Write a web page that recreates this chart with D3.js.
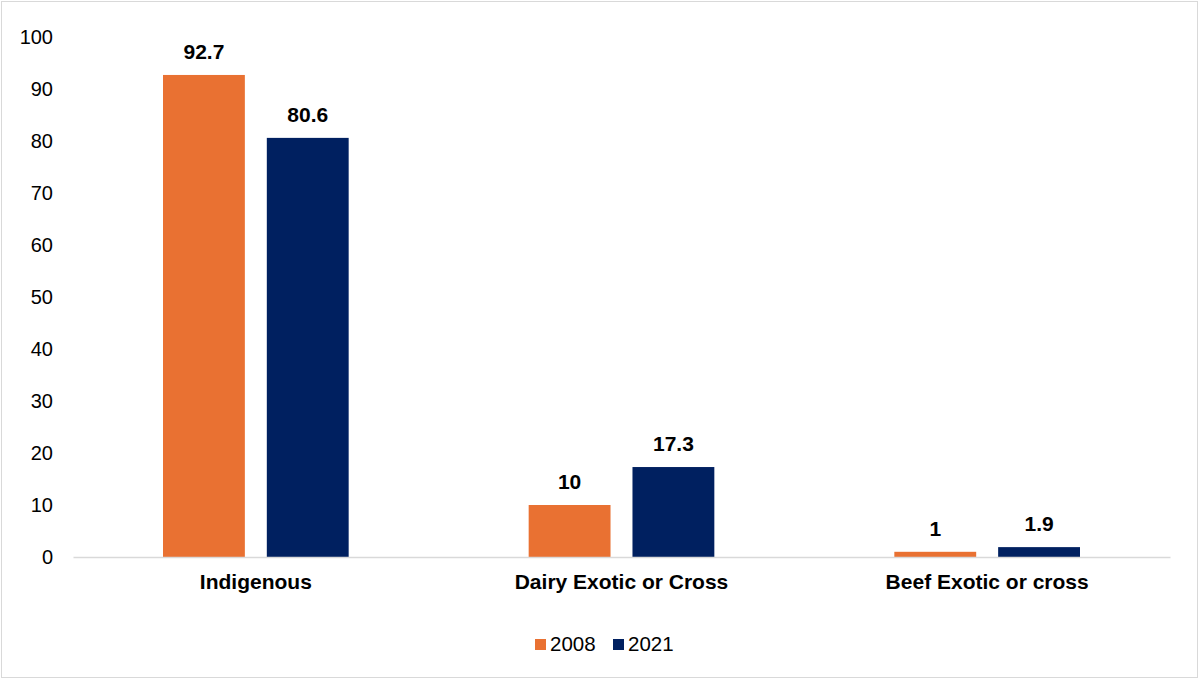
<!DOCTYPE html>
<html>
<head>
<meta charset="utf-8">
<script src="https://cdn.jsdelivr.net/npm/d3@7"></script>
<style>
  html, body { margin: 0; padding: 0; background: #fff; }
  svg { display: block; font-family: "Liberation Sans", Arial, sans-serif; }
</style>
</head>
<body>
<svg id="chart" width="1199" height="679"></svg>
<script>
const categories = ["Indigenous", "Dairy Exotic or Cross", "Beef Exotic or cross"];
const seriesNames = ["2008", "2021"];
const values2008 = [92.7, 10, 1];
const values2021 = [80.6, 17.3, 1.9];
const yTicks = [0, 10, 20, 30, 40, 50, 60, 70, 80, 90, 100];
const colors = { "2008": "#E97132", "2021": "#002060" };

const seriesValues = { "2008": values2008, "2021": values2021 };

const svg = d3.select("#chart");
const W = 1199, H = 679;

// outer border
svg.append("rect")
  .attr("x", 1.5).attr("y", 1.5)
  .attr("width", W - 3).attr("height", H - 3)
  .attr("fill", "#fff").attr("stroke", "#d9d9d9").attr("stroke-width", 1);

const plotLeft = 73, plotRight = 1170, plotTop = 37, plotBottom = 557;

const y = d3.scaleLinear().domain([0, 100]).range([plotBottom, plotTop]);
const x0 = d3.scaleBand().domain(categories).range([plotLeft, plotRight]).padding(0);
const groupPad = 90;
const x1 = d3.scaleBand().domain(seriesNames)
  .range([groupPad, x0.bandwidth() - groupPad])
  .paddingInner(0.2115).paddingOuter(0);

// y axis labels
const yAxis = d3.axisLeft(y).tickValues(yTicks).tickSize(0).tickPadding(0).tickFormat(d3.format("d"));
const gy = svg.append("g").attr("transform", `translate(${plotLeft - 20},0)`).call(yAxis);
gy.select(".domain").remove();
gy.selectAll("text")
  .attr("font-family", "Liberation Sans, Arial, sans-serif")
  .attr("font-size", 20).attr("fill", "#000");

// bars
const groups = svg.append("g").selectAll("g")
  .data(categories)
  .join("g")
  .attr("transform", d => `translate(${x0(d)},0)`);

groups.selectAll("rect")
  .data((c, i) => seriesNames.map(s => ({ s, v: seriesValues[s][i] })))
  .join("rect")
  .attr("x", d => x1(d.s))
  .attr("width", x1.bandwidth())
  .attr("y", d => y(d.v))
  .attr("height", d => y(0) - y(d.v))
  .attr("fill", d => colors[d.s]);

groups.selectAll("text.lbl")
  .data((c, i) => seriesNames.map(s => ({ s, v: seriesValues[s][i] })))
  .join("text")
  .attr("class", "lbl")
  .attr("x", d => x1(d.s) + x1.bandwidth() / 2)
  .attr("y", d => y(d.v) - 16)
  .attr("text-anchor", "middle")
  .attr("font-size", 21).attr("font-weight", "bold").attr("fill", "#000")
  .text(d => String(d.v));

// x axis
const xAxis = d3.axisBottom(x0).tickSize(0).tickPadding(0);
const gx = svg.append("g").attr("transform", `translate(0,${plotBottom})`).call(xAxis);
gx.select(".domain").attr("stroke", "#d9d9d9").attr("stroke-width", 1.5);
gx.selectAll("text")
  .attr("font-family", "Liberation Sans, Arial, sans-serif")
  .attr("font-size", 21).attr("font-weight", "bold").attr("fill", "#000")
  .attr("dy", null).attr("y", 32);

// legend
const legendItems = [
  { s: "2008", x: 535 },
  { s: "2021", x: 613 }
];
const lg = svg.append("g");
legendItems.forEach(it => {
  lg.append("rect").attr("x", it.x).attr("y", 639).attr("width", 11).attr("height", 11).attr("fill", colors[it.s]);
  lg.append("text").attr("x", it.x + 15).attr("y", 651)
    .attr("font-size", 20.5).attr("fill", "#000").text(it.s);
});
</script>
</body>
</html>
